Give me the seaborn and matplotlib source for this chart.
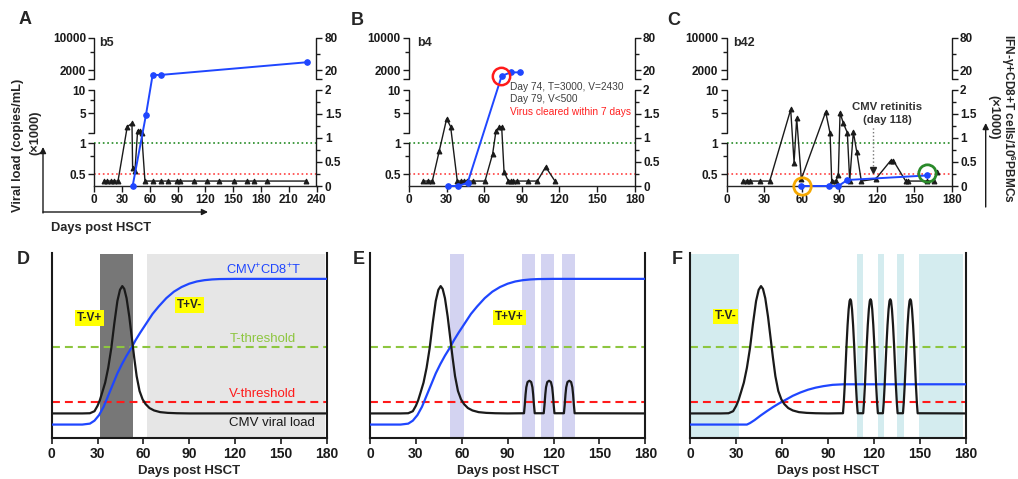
import numpy as np
import matplotlib
matplotlib.use('Agg')
import matplotlib.pyplot as plt
import seaborn as sns

# ---- panel A (b5) : viral load (x1000 copies/mL) and IFN-g+CD8+T cells (x1000)
a_load_days = [10.5, 14.0, 17.7, 21.3, 25.6, 35.6, 40.7, 41.4, 43.9, 46.8, 49.3, 51.1, 54.7,
               63.7, 71.6, 79.9, 88.9, 92.5, 107.9, 121.3, 134.9, 150.7, 165.1, 172.3, 186.0, 228.4]
a_load = [0.43, 0.43, 0.43, 0.43, 0.43, 2.44, 2.92, 0.57, 0.54, 1.97, 1.97, 1.77, 0.43,
          0.43, 0.43, 0.43, 0.43, 0.43, 0.43, 0.43, 0.43, 0.43, 0.43, 0.43, 0.43, 0.43]
a_cell_days = [41.4, 55.8, 63.0, 71.6, 229.2]
a_cells = [0, 1.48, 16.4, 16.4, 28.1]

# ---- panel B (b4)
b_load_days = [11.4, 15.4, 18.6, 24.2, 30.0, 33.2, 38.5, 41.2, 43.9, 46.5, 51.3, 60.6, 66.7,
               69.4, 72.0, 73.9, 75.8, 79.2, 81.3, 83.2, 85.9, 95.1, 102.3, 109.0, 116.4]
b_load = [0.43, 0.43, 0.43, 0.85, 3.7, 2.44, 0.43, 0.43, 0.43, 0.43, 0.43, 0.43, 0.79,
          1.97, 2.36, 2.43, 0.53, 0.43, 0.43, 0.43, 0.43, 0.43, 0.43, 0.59, 0.43]
b_cell_days = [31.4, 39.3, 46.8, 73.9, 81.0, 88.5]
b_cells = [0, 0, 0.07, 15.7, 18.3, 18.3]

# ---- panel C (b42)
c_load_days = [13.3, 16.0, 18.7, 26.7, 34.4, 51.2, 53.9, 56.0, 59.7, 79.2, 82.7, 84.0, 87.2,
               89.3, 90.7, 93.3, 96.5, 98.4, 101.3, 104.0, 107.7, 119.2, 131.2, 133.3, 143.2,
               145.0, 160.0, 165.5, 168.5]
c_load = [0.43, 0.43, 0.43, 0.43, 0.43, 5.6, 0.65, 3.82, 0.45, 5.2, 1.71, 0.43, 0.43,
          0.49, 5.1, 2.92, 1.77, 0.43, 1.86, 0.83, 0.43, 0.45, 0.68, 0.68, 0.43,
          0.43, 0.43, 0.43, 0.53]
c_cell_days = [59.2, 82.1, 89.3, 96.5, 160.5]
c_cells = [0, 0, 0, 0.125, 0.22]

# ---- model panels D-F (relative units 0-100)
early_days = [0, 20, 25, 28, 30, 31.5, 33, 35, 37, 39, 41, 43, 44.7, 46.2, 47.5, 49, 50.8,
              52.4, 54, 55.6, 57.5, 59.5, 61.5, 64, 67, 71, 76, 82, 90]
early_load = [13.4, 13.4, 13.5, 14.6, 17.5, 20.5, 24.5, 30, 38, 48.5, 62, 74, 80, 82, 80.5,
              75.5, 65.5, 54.5, 43.5, 33.5, 25.5, 21, 18.4, 16.3, 15, 14.1, 13.7, 13.5, 13.4]
end_day, end_load = 180, 13.4

bump_offsets = [-3.5, -3.0, -2.5, -2.0, -1.2, 0, 1.2, 2.0, 2.5, 3.0, 3.5]
bump_values = [13.5, 18, 23.5, 27.5, 30.3, 31, 30.3, 27.5, 23.5, 18, 13.5]
e_bump_days = [104.2, 117.1, 130.3]

tall_offsets = [-4.8, -4.3, -3.7, -3.1, -2.5, -1.8, -1.1, -0.5, 0, 0.5, 1.1, 1.8, 2.5, 3.1,
                3.7, 4.3, 4.8]
tall_values = [13.5, 19, 28, 39, 50, 61, 69.5, 74, 74.9, 74, 69.5, 61, 50, 39, 28, 19, 13.5]
f_peak_days = [104.6, 117.8, 130.7, 143.8]

tcell_days = [0, 20, 25, 28, 31, 34, 37, 40, 43, 46, 49, 52, 55, 58, 62, 66, 70, 75, 80, 85,
              90, 95, 100, 105, 110, 120, 180]
tcell_vals = [7.4, 7.4, 7.9, 9.5, 12.5, 17, 23, 29, 35, 40, 44.5, 48.5, 53, 57, 62, 67, 71,
              75.5, 79, 81.5, 83.3, 84.5, 85.2, 85.6, 85.8, 85.9, 85.9]
f_tcell_days = [0, 37, 39, 42, 46, 50, 54, 58, 62, 67, 72, 77, 82, 87, 93, 100, 180]
f_tcell_vals = [7.4, 7.4, 8.2, 9.8, 12.3, 14.6, 16.8, 18.8, 20.6, 22.9, 24.7, 26.2, 27.3,
                28.1, 28.8, 29.1, 29.1]

t_threshold, v_threshold = 49.4, 19.6
d_dark_span = (31.6, 53.0)
d_light_span = (62.6, 179.0)
e_spans = [(52.3, 61.2), (99.4, 108.1), (111.6, 120.0), (125.3, 134.0)]
f_spans = [(0.4, 32.0), (108.7, 113.1), (122.5, 126.6), (135.1, 139.5), (149.5, 178.3)]

BLUE = '#1f46ff'

# broken axis scales of the top panels (height in px above the x axis)
LOAD_KNOTS = np.log10([1e-3, 0.5, 1, 5, 10, 1302, 2000, 10000, 1e6])
LOAD_H = [-266.3, 11.7, 42.7, 72.7, 96, 107, 115.7, 148.3, 241.5]


def load_fwd(v):
    return np.interp(np.log10(np.clip(np.asarray(v, float), 1e-6, None)), LOAD_KNOTS, LOAD_H)


def load_inv(h):
    return 10 ** np.interp(np.asarray(h, float), LOAD_H, LOAD_KNOTS)


def cell_fwd(t):
    t = np.asarray(t, float)
    with np.errstate(all='ignore'):
        hi = 115.7 + np.log10(np.clip(t, 1e-6, None) / 20) * 54.1
    return np.where(t <= 2, t * 48, np.where(t < 13.8, 96 + (t - 2) / 11.8 * 11, hi))


def cell_inv(h):
    h = np.asarray(h, float)
    with np.errstate(all='ignore'):
        hi = 20 * 10 ** (np.clip(h, -500, 500) / 54.1 - 115.7 / 54.1)
    return np.where(h <= 96, h / 48, np.where(h < 107, 2 + (h - 96) / 11 * 11.8, hi))


sns.set_theme(style='ticks')
plt.rcParams['font.family'] = ['Liberation Sans', 'DejaVu Sans']
plt.rcParams['font.weight'] = 'bold'
plt.rcParams['axes.labelweight'] = 'bold'
plt.rcParams['mathtext.default'] = 'regular'

fig = plt.figure(figsize=(10.18, 4.79), dpi=100)


def rect(left, top, right, bottom):
    return [left / 1018, 1 - bottom / 479, (right - left) / 1018, (bottom - top) / 479]


def top_panel(r, xmax, ld, lv, cd, cv, tag, tag_x):
    ax = fig.add_axes(r)
    ax.set_yscale('function', functions=(load_fwd, load_inv))
    axt = ax.twinx()
    axt.set_yscale('function', functions=(cell_fwd, cell_inv))
    ax.axhline(1, color='#238a23', lw=1.2, ls=':', zorder=1)
    ax.axhline(0.5, color='#ff4040', lw=1.2, ls=':', zorder=1)
    sns.lineplot(x=ld, y=lv, ax=ax, color='k', lw=1, marker='^', ms=3.5, mec='k',
                 estimator=None, sort=False)
    sns.lineplot(x=cd, y=cv, ax=axt, color=BLUE, lw=1.4, marker='o', ms=4, mec=BLUE,
                 estimator=None, sort=False, clip_on=False)
    ax.set_xlim(0, xmax)
    ax.set_ylim(0.385, 10000)
    axt.set_ylim(0, 80)
    for a in (ax, axt):
        for s in a.spines.values():
            s.set_visible(False)
    ax.spines['bottom'].set_visible(True)
    ax.spines['bottom'].set_linewidth(1)
    # broken spines drawn as segments with end caps
    yt = ax.get_yaxis_transform()
    for lo, hi in [(1302, 10000), (1.77, 10), (0.385, 1)]:
        ax.plot([0, 0], [lo, hi], transform=yt, color='k', lw=1, clip_on=False)
    ax.plot([0, 0], [1302, 1.77], transform=yt, ls='none', marker=0, ms=4, mew=1,
            color='k', clip_on=False)
    ytt = axt.get_yaxis_transform()
    for lo, hi in [(13.8, 80), (0, 2)]:
        axt.plot([1, 1], [lo, hi], transform=ytt, color='k', lw=1, clip_on=False)
    axt.plot([1], [13.8], transform=ytt, ls='none', marker=1, ms=4, mew=1, color='k',
             clip_on=False)
    ax.set_yticks([0.5, 1, 5, 10, 2000, 10000], ['0.5', '1', '5', '10', '2000', '10000'])
    ax.set_yticks([0.75, 7.5, 5000], minor=True)
    axt.set_yticks([0, 0.5, 1, 1.5, 2, 20, 80], ['0', '0.5', '1', '1.5', '2', '20', '80'])
    axt.set_yticks([0.25, 0.75, 1.25, 1.75, 40], minor=True)
    ax.set_xticks(range(0, xmax + 1, 30))
    for a in (ax, axt):
        a.tick_params(axis='both', which='major', length=4, width=1, labelsize=8.5, pad=2,
                      colors='k')
        a.tick_params(axis='y', which='minor', length=3, width=1, colors='k')
    ax.text(tag_x, 0.962, tag, transform=ax.transAxes, fontsize=9, va='center')
    return ax, axt


axA, atA = top_panel(rect(94.3, 37.7, 316.5, 186), 240, a_load_days, a_load,
                     a_cell_days, a_cells, 'b5', 0.022)
axB, atB = top_panel(rect(409, 37.7, 634.7, 186), 180, b_load_days, b_load,
                     b_cell_days, b_cells, 'b4', 0.037)
axC, atC = top_panel(rect(726.7, 37.7, 951.7, 186), 180, c_load_days, c_load,
                     c_cell_days, c_cells, 'b42', 0.029)

# annotations of B and C
atB.plot([73], [15.4], marker='o', ms=12.5, mfc='none', mec='#ff1a1a', mew=1.8,
         clip_on=False)
for i, (txt, col) in enumerate([('Day 74, T=3000, V=2430', '#404040'),
                                ('Day 79, V<500', '#404040'),
                                ('Virus cleared within 7 days', '#ff2020')]):
    axB.text(0.4475, 0.6696 - i * 0.0863, txt, transform=axB.transAxes, fontsize=7.3,
             color=col, fontweight='normal', va='center')
atC.plot([60], [0], marker='o', ms=12.5, mfc='none', mec='#f5a800', mew=2, clip_on=False)
atC.plot([160.5], [0.27], marker='o', ms=12.5, mfc='none', mec='#2a8a2a', mew=2,
         clip_on=False)
atC.plot([117, 117], [0.42, 1.22], ls=':', color='#777777', lw=1)
atC.plot([117], [0.33], marker='v', ms=4.5, color='#222222', ls='none')
atC.text(128.5, 1.51, 'CMV retinitis\n(day 118)', ha='center', va='center', fontsize=8.2,
         color='#333333', linespacing=1.3)


def model_panel(r, black_days, black_vals, blue_days, blue_vals):
    ax = fig.add_axes(r)
    ax.axhline(t_threshold, color='#8dc63f', lw=1.5, ls=(0, (3.8, 2.4)), zorder=2)
    ax.axhline(v_threshold, color='#ff1a1a', lw=1.5, ls=(0, (3.8, 2.4)), zorder=2)
    sns.lineplot(x=blue_days, y=blue_vals, ax=ax, color=BLUE, lw=1.6, estimator=None,
                 sort=False, zorder=3)
    sns.lineplot(x=black_days, y=black_vals, ax=ax, color='k', lw=1.6, estimator=None,
                 sort=False, zorder=4)
    ax.set_xlim(0, 180)
    ax.set_ylim(0, 100)
    ax.spines['top'].set_visible(False)
    for s in ('left', 'right', 'bottom'):
        ax.spines[s].set_linewidth(1.5)
        ax.spines[s].set_color('k')
    ax.set_yticks([])
    ax.set_xticks(range(0, 181, 30))
    ax.tick_params(axis='x', length=4, width=1.2, labelsize=10, pad=2, colors='k')
    ax.set_xlabel('Days post HSCT', fontsize=9.5, fontweight='bold', labelpad=3)
    return ax


def label_box(ax, x, y, txt):
    ax.text(x, y, txt, ha='center', va='center', fontsize=8.5, zorder=6,
            bbox=dict(boxstyle='square,pad=0.15', fc='#ffff00', ec='none'))


d_black_days = early_days + [end_day]
d_black = early_load + [end_load]
e_black_days = early_days + [c + o for c in e_bump_days for o in bump_offsets] + [end_day]
e_black = early_load + bump_values * len(e_bump_days) + [end_load]
f_black_days = early_days + [c + o for c in f_peak_days for o in tall_offsets] + [end_day]
f_black = early_load + tall_values * len(f_peak_days) + [end_load]

axD = model_panel(rect(51.7, 252.7, 326.7, 438.3), d_black_days, d_black, tcell_days, tcell_vals)
axD.axvspan(*d_dark_span, ymin=0.008, ymax=0.993, color='#777777', lw=0, zorder=0)
axD.axvspan(*d_light_span, ymin=0.008, ymax=0.993, color='#e6e6e6', lw=0, zorder=0)
axD.text(138.5, 91.0, 'CMV$^{+}$CD8$^{+}$T', color=BLUE, ha='center', va='center',
         fontsize=9.3, fontweight='normal')
axD.text(138.3, 53.6, 'T-threshold', color='#8dc63f', ha='center', va='center',
         fontsize=9.5, fontweight='normal')
axD.text(138.3, 23.9, 'V-threshold', color='#ff1a1a', ha='center', va='center',
         fontsize=9.5, fontweight='normal')
axD.text(144.2, 8.2, 'CMV viral load', color='k', ha='center', va='center',
         fontsize=9.5, fontweight='normal')
label_box(axD, 24.5, 64.9, 'T-V+')
label_box(axD, 90.4, 71.8, 'T+V-')

axE = model_panel(rect(370, 252.7, 645.3, 438.3), e_black_days, e_black, tcell_days, tcell_vals)
for lo, hi in e_spans:
    axE.axvspan(lo, hi, ymin=0.008, ymax=0.993, color='#d3d3f1', lw=0, zorder=0)
label_box(axE, 91.2, 65.2, 'T+V+')

axF = model_panel(rect(690.3, 252.7, 965.7, 438.3), f_black_days, f_black,
                  f_tcell_days, f_tcell_vals)
for lo, hi in f_spans:
    axF.axvspan(lo, hi, ymin=0.008, ymax=0.993, color='#d4ecef', lw=0, zorder=0)
label_box(axF, 23.2, 65.7, 'T-V-')

# overlay in pixel coordinates for figure level labels and arrows
ov = fig.add_axes([0, 0, 1, 1])
ov.set_xlim(0, 1018)
ov.set_ylim(479, 0)
ov.axis('off')
ov.patch.set_alpha(0)
for letter, x, y in [('A', 25, 19.5), ('B', 357.5, 20), ('C', 674, 20),
                     ('D', 23.7, 259), ('E', 359.2, 259), ('F', 677, 259)]:
    ov.text(x, y, letter, fontsize=13, ha='center', va='center')
ov.text(18.5, 145, 'Viral load (copies/mL)', rotation=90, fontsize=9.3, ha='center',
        va='center')
ov.text(35, 133, '(\u00d71000)', rotation=90, fontsize=9.3, ha='center', va='center')
ov.text(101, 228, 'Days post HSCT', fontsize=9.3, ha='center', va='center')
arrow = dict(arrowstyle='-|>', color='k', lw=1, mutation_scale=9, shrinkA=0, shrinkB=0)
ov.annotate('', xy=(43, 147), xytext=(43, 213), arrowprops=arrow)
ov.annotate('', xy=(208, 212), xytext=(43, 212), arrowprops=arrow)
ov.text(1008.5, 118, 'IFN-\u03b3+CD8+T cells/10$^{6}$PBMCs', rotation=270, fontsize=8.6,
        ha='center', va='center')
ov.text(993, 117.5, '(\u00d71000)', rotation=270, fontsize=9.3, ha='center', va='center')
ov.annotate('', xy=(985.7, 123), xytext=(985.7, 207), arrowprops=arrow)

fig.savefig('out.png', dpi=100)
